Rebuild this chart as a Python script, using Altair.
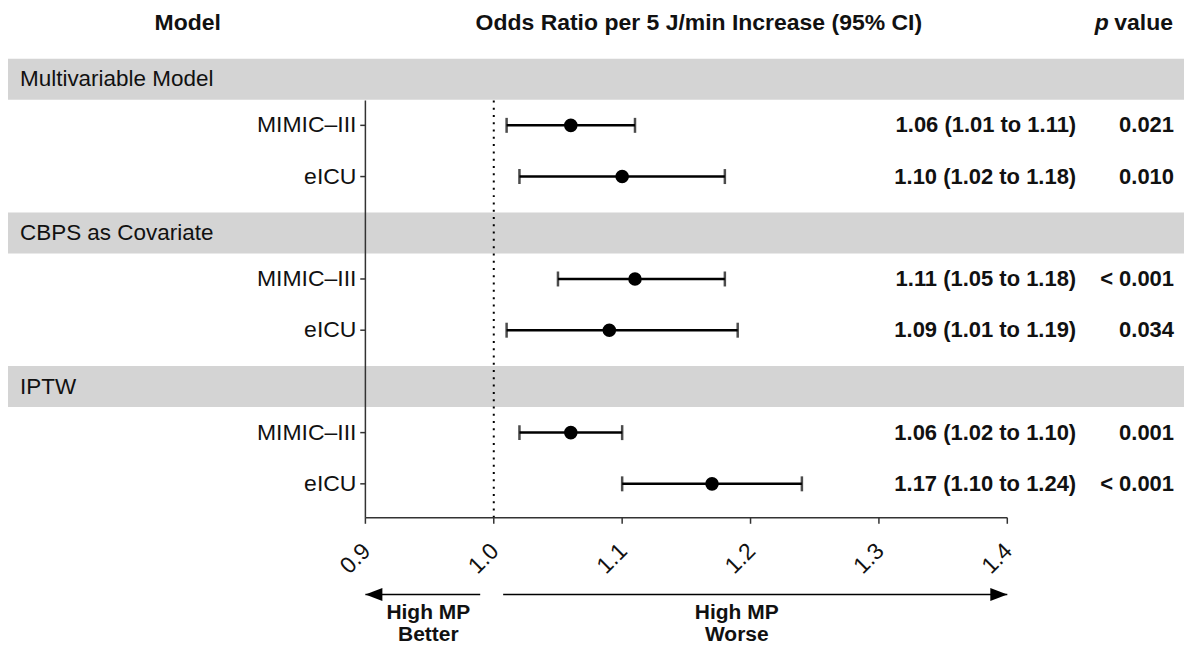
import altair as alt
import pandas as pd

# ---------------- data ----------------
groups = ["Multivariable Model", "CBPS as Covariate", "IPTW"]
cohorts = ["MIMIC–III", "eICU"]
odds_ratio = [1.06, 1.10, 1.11, 1.09, 1.06, 1.17]
ci_lower = [1.01, 1.02, 1.05, 1.01, 1.02, 1.10]
ci_upper = [1.11, 1.18, 1.18, 1.19, 1.10, 1.24]
ci_text = ["1.06 (1.01 to 1.11)", "1.10 (1.02 to 1.18)", "1.11 (1.05 to 1.18)",
           "1.09 (1.01 to 1.19)", "1.06 (1.02 to 1.10)", "1.17 (1.10 to 1.24)"]
p_text = ["0.021", "0.010", "< 0.001", "0.034", "0.001", "< 0.001"]
x_ticks = [0.9, 1.0, 1.1, 1.2, 1.3, 1.4]
x_tick_labels = ["0.9", "1.0", "1.1", "1.2", "1.3", "1.4"]
header_model = "Model"
header_or = "Odds Ratio per 5 J/min Increase (95% CI)"
header_p_italic = "p"
header_p_rest = "value"
direction_labels = ["High MP\nBetter", "High MP\nWorse"]

# ---------------- layout (in scale units) ----------------
X_MIN, X_MAX = 0.621617, 1.537636          # full plot width in odds-ratio units
Y_MIN, Y_MAX = -1.2807, 11.039             # row units (reversed)
AX_LO, AX_HI = 0.9, 1.4
Y_TOP_LINE, Y_AXIS = 0.5127, 8.6608
Y_TICK_END = 8.78
Y_TICK_LABEL = 9.27
Y_HEADER = -1.0078
Y_ARROW = 10.1618
Y_DIR_TEXT = 10.5127
X_BAND_LABEL = 0.63095
X_CI = 1.45365
X_P = 1.52986
X_MODEL = 0.76159
X_OR_HDR = 1.15972
X_P_VALUE = 1.5291
X_P_ITALIC = 1.4791
X_BETTER = 0.949
X_WORSE = 1.18927
FONT = "Liberation Sans"
INK = "#111111"
LINE = "#333333"

rows = []
k = 0
for g in range(len(groups)):
    for c in range(len(cohorts)):
        rows.append(dict(group=groups[g], cohort=cohorts[c], row=3 * g + 1 + c,
                         est=odds_ratio[k], lo=ci_lower[k], hi=ci_upper[k],
                         ci=ci_text[k], p=p_text[k]))
        k += 1
df = pd.DataFrame(rows)
df["tick_x"] = AX_LO - 0.004
df["tick_x2"] = AX_LO
df["lab_x"] = AX_LO
df["ci_x"] = X_CI
df["p_x"] = X_P

bands = pd.DataFrame(dict(group=groups,
                          yc=[3 * g + 0.1 for g in range(len(groups))]))
bands["y0"] = bands["yc"] - 0.4
bands["y1"] = bands["yc"] + 0.4
bands["x0"] = X_MIN
bands["x1"] = X_MAX
bands["lx"] = X_BAND_LABEL

xs = alt.Scale(domain=[X_MIN, X_MAX], nice=False, zero=False)
ys = alt.Scale(domain=[Y_MIN, Y_MAX], nice=False, zero=False, reverse=True)


def X(f):
    return alt.X(f, type="quantitative", scale=xs, axis=None, title=None)


def Y(f):
    return alt.Y(f, type="quantitative", scale=ys, axis=None, title=None)


band_rect = alt.Chart(bands).mark_rect(color="#d4d4d4").encode(
    x=X("x0"), x2="x1", y=Y("y0"), y2="y1")
band_text = alt.Chart(bands).mark_text(align="left", baseline="middle", fontSize=22.5,
                                       color=INK, font=FONT).encode(
    x=X("lx"), y=Y("yc"), text="group:N")

lines = pd.DataFrame(dict(x=[AX_LO], xr=[1.0], y0=[Y_TOP_LINE], y1=[Y_AXIS],
                          xa=[AX_LO], xb=[AX_HI]))
v_axis = alt.Chart(lines).mark_rule(color=LINE, strokeWidth=1.5).encode(
    x=X("x"), y=Y("y0"), y2="y1")
ref_line = alt.Chart(lines).mark_rule(color="black", strokeWidth=2,
                                      strokeDash=[2, 5.3]).encode(
    x=X("xr"), y=Y("y0"), y2="y1")
h_axis = alt.Chart(lines).mark_rule(color=LINE, strokeWidth=1.5).encode(
    x=X("xa"), x2="xb", y=Y("y1"))

xt = pd.DataFrame(dict(v=x_ticks, t=x_tick_labels))
xt["y0"] = Y_AXIS
xt["y1"] = Y_TICK_END
xt["yl"] = Y_TICK_LABEL
x_ticks_marks = alt.Chart(xt).mark_rule(color=LINE, strokeWidth=1.5).encode(
    x=X("v"), y=Y("y0"), y2="y1")
x_tick_text = alt.Chart(xt).mark_text(align="right", baseline="middle", angle=315,
                                      fontSize=23, color=INK, font=FONT, dx=2).encode(
    x=X("v"), y=Y("yl"), text="t:N")

row_ticks = alt.Chart(df).mark_rule(color=LINE, strokeWidth=1.5).encode(
    x=X("tick_x"), x2="tick_x2", y=Y("row"))
row_labels = alt.Chart(df).mark_text(align="right", baseline="middle", dx=-9,
                                     fontSize=23, color=INK, font=FONT).encode(
    x=X("lab_x"), y=Y("row"), text="cohort:N")

err = alt.Chart(df).mark_rule(color="black", strokeWidth=2.5).encode(
    x=X("lo"), x2="hi", y=Y("row"))
cap_lo = alt.Chart(df).mark_tick(color="black", thickness=2.5, size=15,
                                 orient="vertical").encode(x=X("lo"), y=Y("row"))
cap_hi = alt.Chart(df).mark_tick(color="black", thickness=2.5, size=15,
                                 orient="vertical").encode(x=X("hi"), y=Y("row"))
pts = alt.Chart(df).mark_circle(color="black", size=185, opacity=1).encode(
    x=X("est"), y=Y("row"))

ci_lbl = alt.Chart(df).mark_text(align="right", baseline="middle", fontSize=22,
                                 fontWeight="bold", color=INK, font=FONT).encode(
    x=X("ci_x"), y=Y("row"), text="ci:N")
p_lbl = alt.Chart(df).mark_text(align="right", baseline="middle", fontSize=22,
                                fontWeight="bold", color=INK, font=FONT).encode(
    x=X("p_x"), y=Y("row"), text="p:N")

hdr = pd.DataFrame(dict(t=[header_model, header_or], x=[X_MODEL, X_OR_HDR],
                        y=[Y_HEADER, Y_HEADER]))
hdr_text = alt.Chart(hdr).mark_text(align="center", baseline="middle", fontSize=23,
                                    fontWeight="bold", color=INK, font=FONT).encode(
    x=X("x"), y=Y("y"), text="t:N")
hp = pd.DataFrame(dict(t=[header_p_rest], x=[X_P_VALUE], y=[Y_HEADER]))
hp_text = alt.Chart(hp).mark_text(align="right", baseline="middle", fontSize=23,
                                  fontWeight="bold", color=INK, font=FONT).encode(
    x=X("x"), y=Y("y"), text="t:N")
hpi = pd.DataFrame(dict(t=[header_p_italic], x=[X_P_ITALIC], y=[Y_HEADER]))
hpi_text = alt.Chart(hpi).mark_text(align="right", baseline="middle", fontSize=23,
                                    fontWeight="bold", fontStyle="italic",
                                    color=INK, font=FONT).encode(
    x=X("x"), y=Y("y"), text="t:N")

arrows = pd.DataFrame(dict(x0=[AX_LO, 1.00731], x1=[0.98943, AX_HI],
                           y=[Y_ARROW, Y_ARROW]))
arrow_lines = alt.Chart(arrows).mark_rule(color="black", strokeWidth=1.5).encode(
    x=X("x0"), x2="x1", y=Y("y"))
heads = pd.DataFrame(dict(x=[AX_LO, AX_HI], y=[Y_ARROW, Y_ARROW], d=["left", "right"]))
head_l = alt.Chart(heads[heads.d == "left"]).mark_point(
    shape="M 0 0 L 2 -0.76 L 2 0.76 Z", size=289, filled=True, color="black",
    opacity=1).encode(x=X("x"), y=Y("y"))
head_r = alt.Chart(heads[heads.d == "right"]).mark_point(
    shape="M 0 0 L -2 -0.76 L -2 0.76 Z", size=289, filled=True, color="black",
    opacity=1).encode(x=X("x"), y=Y("y"))
dirs = pd.DataFrame(dict(t=direction_labels, x=[X_BETTER, X_WORSE],
                         y=[Y_DIR_TEXT, Y_DIR_TEXT]))
dir_text = alt.Chart(dirs).mark_text(align="center", baseline="middle", fontSize=21,
                                     fontWeight="bold", color=INK, font=FONT,
                                     lineBreak="\n", lineHeight=23).encode(
    x=X("x"), y=Y("y"), text="t:N")

chart = alt.layer(
    band_rect, band_text, v_axis, ref_line, h_axis, x_ticks_marks, x_tick_text,
    row_ticks, row_labels, err, cap_lo, cap_hi, pts, ci_lbl, p_lbl,
    hdr_text, hp_text, hpi_text, arrow_lines, head_l, head_r, dir_text
).properties(
    width=1178, height=632,
    autosize=alt.AutoSizeParams(type="none"),
    padding={"left": 0, "top": 0, "right": 0, "bottom": 8},
).configure(font=FONT).configure_view(stroke=None)

chart.save("out.html", embed_options={"renderer": "svg", "actions": False})
